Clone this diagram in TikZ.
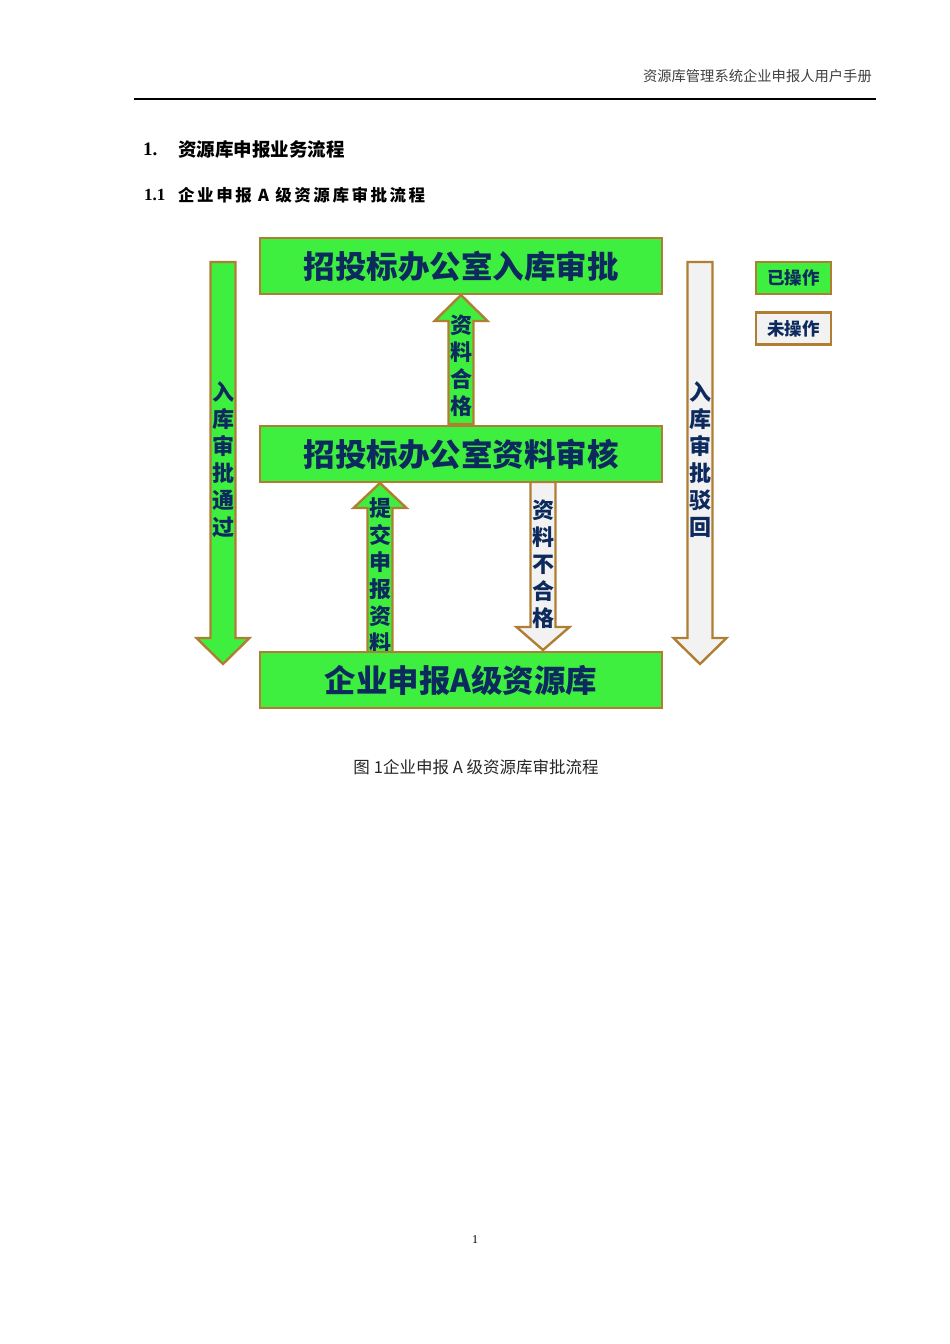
\documentclass[tikz,border=0pt]{standalone}
\usepackage{fontspec}
\setmainfont{Liberation Serif}
\newfontfamily\cjk{Noto Sans CJK SC}
\usetikzlibrary{calc}
\definecolor{grn}{HTML}{3FEF3F}
\definecolor{brd}{HTML}{B07E32}
\definecolor{gry}{HTML}{F2F2F2}
\definecolor{navy}{HTML}{0D2A5E}
\tikzset{
  box/.style={draw=brd, line width=2.4pt, fill=grn, minimum width=402pt, minimum height=56pt, inner sep=0pt,
    font=\cjk\bfseries\fontsize{31.5}{31.5}\selectfont, text=navy},
  legbox/.style={draw=brd, line width=2.4pt, minimum width=75pt, minimum height=32pt, inner sep=0pt,
    font=\cjk\bfseries\fontsize{17.5}{18}\selectfont, text=navy},
  greenarrow/.style={draw=brd, line width=2.4pt, fill=grn, line join=miter},
  grayarrow/.style={draw=brd, line width=2.4pt, fill=gry, line join=miter},
  vtext/.style={align=center, inner sep=0pt, text=navy, font=\cjk\bfseries\fontsize{22}{27}\selectfont}
}
% #1 style, #2 base, #3 tip, #4 signed head length
\newcommand\barrow[4]{%
  \draw[#1] ($(#2)+(-12.5,0)$) -- ($(#3)+(-12.5,#4)$) -- ($(#3)+(-26.5,#4)$) -- (#3)
    -- ($(#3)+(26.5,#4)$) -- ($(#3)+(12.5,#4)$) -- ($(#2)+(12.5,0)$) -- cycle;}
\newcommand\lowtxt[1]{\raisebox{-3pt}{#1}}
\begin{document}
\begin{tikzpicture}[x=1pt,y=-1pt]
\useasboundingbox[fill=white] (0,0) rectangle (950,1344);
% header
\node[anchor=east, inner sep=0pt, text=black!75, font=\cjk\fontsize{14.3}{14.3}\selectfont] (hdr) at (872,76) {资源库管理系统企业申报人用户手册};
\coordinate (hl) at (134,99);
\coordinate (hr) at (876,99);
\draw[line width=1.2pt] (hl) -- (hr);
% headings
\node[anchor=west, inner sep=0pt, font=\bfseries\fontsize{19}{19}\selectfont] (h1n) at (143,149) {1.};
\node[anchor=west, inner sep=0pt, font=\cjk\bfseries\fontsize{18.5}{19}\selectfont] (h1) at (178,149) {资源库申报业务流程};
\node[anchor=west, inner sep=0pt, font=\bfseries\fontsize{17}{17}\selectfont] (h2n) at (144,195) {1.1};
\node[anchor=west, inner sep=0pt, font=\cjk\bfseries\fontsize{16.5}{17}\selectfont] (h2) at (178,195)
  {\makebox[247pt][s]{企\hfil 业\hfil 申\hfil 报\hfil\ A\ \hfil 级\hfil 资\hfil 源\hfil 库\hfil 审\hfil 批\hfil 流\hfil 程}};
% coordinates for arrows
\coordinate (lb) at (223,262); \coordinate (lt) at (223,664);
\coordinate (rb) at (700,262); \coordinate (rt) at (700,664);
\coordinate (ab) at (461,424); \coordinate (at2) at (461,295);
\coordinate (sb) at (380,652); \coordinate (st) at (380,483);
\coordinate (fb) at (543,482); \coordinate (ft) at (543,650);
% arrows
\barrow{greenarrow}{lb}{lt}{-26}
\barrow{grayarrow}{rb}{rt}{-26}
\barrow{greenarrow}{ab}{at2}{26}
\barrow{greenarrow}{sb}{st}{25}
\barrow{grayarrow}{fb}{ft}{-23}
% arrow labels
\node[vtext] (l1) at (223,460) {入\\库\\审\\批\\通\\过};
\node[vtext] (l2) at (700,460) {入\\库\\审\\批\\驳\\回};
\node[vtext] (l3) at (461,366) {资\\料\\合\\格};
\node[vtext] (l4) at (380,576) {提\\交\\申\\报\\资\\料};
\node[vtext] (l5) at (543,564) {资\\料\\不\\合\\格};
% boxes
\node[box] (top) at (461,266) {\lowtxt{招投标办公室入库审批}};
\node[box] (mid) at (461,454) {\lowtxt{招投标办公室资料审核}};
\node[box] (bot) at (461,680) {\lowtxt{企业申报A级资源库}};
% legend
\node[legbox, fill=grn] (done) at (793.5,278) {已操作};
\node[legbox, fill=gry] (todo) at (793.5,328.5) {未操作};
% caption
\node[inner sep=0pt, text=black!85, font=\cjk\fontsize{16.5}{17}\selectfont] (cap) at (476,767) {图\hspace{4pt}1企业申报 A 级资源库审批流程};
\node[inner sep=0pt, font=\fontsize{12}{12}\selectfont] (pg) at (475,1240) {1};
\end{tikzpicture}
\end{document}
